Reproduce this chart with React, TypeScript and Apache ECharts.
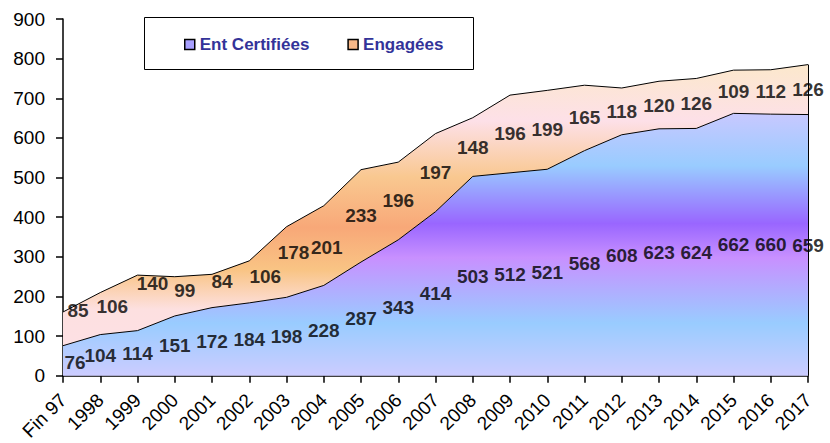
import React, { useEffect, useRef } from "react";
import * as echarts from "echarts";

const categories = [
  "Fin 97", "1998", "1999", "2000", "2001", "2002", "2003", "2004", "2005", "2006",
  "2007", "2008", "2009", "2010", "2011", "2012", "2013", "2014", "2015", "2016", "2017",
];
const certifiees = [76, 104, 114, 151, 172, 184, 198, 228, 287, 343, 414, 503, 512, 521, 568, 608, 623, 624, 662, 660, 659];
const engagees = [85, 106, 140, 99, 84, 106, 178, 201, 233, 196, 197, 148, 196, 199, 165, 118, 120, 126, 109, 112, 126];
const seriesNames = ["Ent Certifiées", "Engagées"];
const yMin = 0;
const yMax = 900;
const yInterval = 100;

// small label nudges (px) as in the reference
const certNudge: Record<number, [number, number]> = { 0: [12, 2] };
const engNudge: Record<number, [number, number]> = {
  0: [15, -18], 1: [12, -7], 2: [15, -19], 3: [10, -6], 4: [10, -9], 5: [16, -5], 6: [7, -10], 7: [3, 2],
};

const FONT = 'Arial, "Liberation Sans", sans-serif';

export default function App() {
  const ref = useRef<HTMLDivElement>(null);
  useEffect(() => {
    document.body.style.margin = "0";
    const chart = echarts.init(ref.current!, null, { renderer: "svg" });

    const certGrad = new echarts.graphic.LinearGradient(0, 0, 0, 1, [
      { offset: 0, color: "#c8c8ff" },
      { offset: 0.2, color: "#99ccff" },
      { offset: 0.42, color: "#9966ff" },
      { offset: 0.55, color: "#c890ff" },
      { offset: 0.8, color: "#99ccff" },
      { offset: 1, color: "#ccccff" },
    ]);
    const engGrad = new echarts.graphic.LinearGradient(0, 0, 0, 1, [
      { offset: 0, color: "#fce8cc" },
      { offset: 0.2, color: "#fde0e8" },
      { offset: 0.4, color: "#f9c890" },
      { offset: 0.58, color: "#f8a878" },
      { offset: 0.73, color: "#f9c484" },
      { offset: 0.87, color: "#fde0e0" },
      { offset: 1, color: "#fde0e4" },
    ]);

    const labelStyle = {
      show: true,
      position: "inside" as const,
      color: "#000",
      fontFamily: FONT,
      fontWeight: "bold" as const,
      fontSize: 19,
    };

    const last = categories.length - 1;
    const option: any = {
      animation: false,
      backgroundColor: "#fff",
      grid: { left: 63, right: 22, top: 19, bottom: 66, containLabel: false },
      graphic: [
        {
          type: "rect",
          shape: { x: 144.5, y: 17.5, width: 329, height: 52 },
          style: { fill: "#fff", stroke: "#000", lineWidth: 1 },
          z: 0,
        },
      ],
      legend: {
        left: 179,
        top: 31,
        icon: "rect",
        itemWidth: 10,
        itemHeight: 10,
        itemGap: 38,
        textStyle: { color: "#333399", fontFamily: FONT, fontWeight: "bold", fontSize: 17 },
        data: [
          { name: seriesNames[0], itemStyle: { color: "#a8a0ff", borderColor: "#000", borderWidth: 1.5 } },
          { name: seriesNames[1], itemStyle: { color: "#f8b888", borderColor: "#000", borderWidth: 1.5 } },
        ],
      },
      xAxis: {
        type: "category",
        data: categories,
        boundaryGap: false,
        axisLine: { lineStyle: { color: "#000", width: 1.5 } },
        axisTick: { show: true, length: 7, lineStyle: { color: "#000", width: 1.5 } },
        axisLabel: { interval: 0, rotate: 45, fontSize: 19, color: "#000", fontFamily: FONT, margin: 21 },
        splitLine: { show: false },
      },
      yAxis: {
        type: "value",
        min: yMin,
        max: yMax,
        interval: yInterval,
        axisLine: { show: true, lineStyle: { color: "#000", width: 1.5 } },
        axisTick: { show: true, length: 7, lineStyle: { color: "#000", width: 1.5 } },
        axisLabel: { fontSize: 19, color: "#000", fontFamily: FONT, margin: 18 },
        splitLine: { show: false },
      },
      series: [
        {
          name: seriesNames[0],
          type: "line",
          stack: "total",
          data: certifiees,
          symbol: "none",
          lineStyle: { color: "#000", width: 1 },
          areaStyle: { color: certGrad, opacity: 1 },
          itemStyle: { color: "#a8a0ff" },
          z: 2,
        },
        {
          name: seriesNames[1],
          type: "line",
          stack: "total",
          data: engagees,
          symbol: "none",
          lineStyle: { color: "#000", width: 1 },
          areaStyle: { color: engGrad, opacity: 1 },
          itemStyle: { color: "#f8b888" },
          z: 2,
          markLine: {
            silent: true,
            symbol: "none",
            label: { show: false },
            lineStyle: { color: "#000", width: 1, type: "solid" },
            data: [[{ coord: [last, 0] }, { coord: [last, certifiees[last] + engagees[last]] }]],
          },
        },
        {
          type: "scatter",
          silent: true,
          symbolSize: 1,
          itemStyle: { color: "rgba(0,0,0,0)" },
          z: 10,
          label: { ...labelStyle, formatter: (p: any) => String(certifiees[p.dataIndex]) },
          data: certifiees.map((v, i) => ({
            value: [i, v / 2],
            label: certNudge[i] ? { offset: certNudge[i] } : undefined,
          })),
        },
        {
          type: "scatter",
          silent: true,
          symbolSize: 1,
          itemStyle: { color: "rgba(0,0,0,0)" },
          z: 10,
          label: { ...labelStyle, formatter: (p: any) => String(engagees[p.dataIndex]) },
          data: engagees.map((v, i) => ({
            value: [i, certifiees[i] + v / 2],
            label: engNudge[i] ? { offset: engNudge[i] } : undefined,
          })),
        },
      ],
    };
    chart.setOption(option);
    return () => chart.dispose();
  }, []);
  return <div ref={ref} style={{ position: "absolute", left: 0, top: 0, width: 830, height: 443 }} />;
}
